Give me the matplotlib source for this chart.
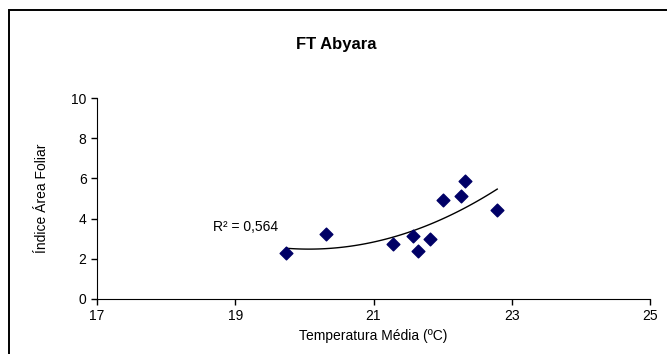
import matplotlib
matplotlib.use("Agg")
import matplotlib.pyplot as plt
import numpy as np

# leitura dos pontos do grafico
temp = [19.74, 20.31, 21.28, 21.57, 21.64, 21.82, 22.00, 22.26, 22.32, 22.79]
iaf = [2.29, 3.22, 2.75, 3.13, 2.38, 2.97, 4.93, 5.14, 5.85, 4.44]
xticks = [17, 19, 21, 23, 25]
yticks = [0, 2, 4, 6, 8, 10]

plt.rcParams['font.family'] = ['Liberation Sans', 'DejaVu Sans']

fig = plt.figure(figsize=(6.67, 3.54), dpi=100)
# moldura do grafico (estilo excel), cortada a direita e em baixo
fig.patches.append(plt.Rectangle((9 / 667, -10 / 354), 680 / 667, 354 / 354,
                                 transform=fig.transFigure, fill=False,
                                 edgecolor='black', lw=1.4))

ax = fig.add_axes([97 / 667, 55 / 354, 553 / 667, 201 / 354])
ax.scatter(temp, iaf, marker='D', s=42, color='#000066', zorder=3)

# linha de tendencia polinomial (ordem 2)
coef = np.polyfit(temp, iaf, 2)
xs = np.linspace(min(temp), max(temp), 100)
ax.plot(xs, np.polyval(coef, xs), color='black', lw=1)

ax.text(18.68, 3.6, 'R² = 0,564', fontsize=10, va='center')

ax.set_xlim(17, 25)
ax.set_ylim(0, 10)
ax.set_xticks(xticks)
ax.set_yticks(yticks)
ax.tick_params(labelsize=10, length=4, width=1, direction='out')
for s in ['top', 'right']:
    ax.spines[s].set_visible(False)
ax.set_xlabel('Temperatura Média (ºC)', fontsize=10, labelpad=4)
ax.set_ylabel('Índice Área Foliar', fontsize=10, labelpad=16)
fig.text(336 / 667, 1 - 45 / 354, 'FT Abyara', fontsize=12, fontweight='bold',
         ha='center', va='center')

fig.savefig('out.png', dpi=100)
